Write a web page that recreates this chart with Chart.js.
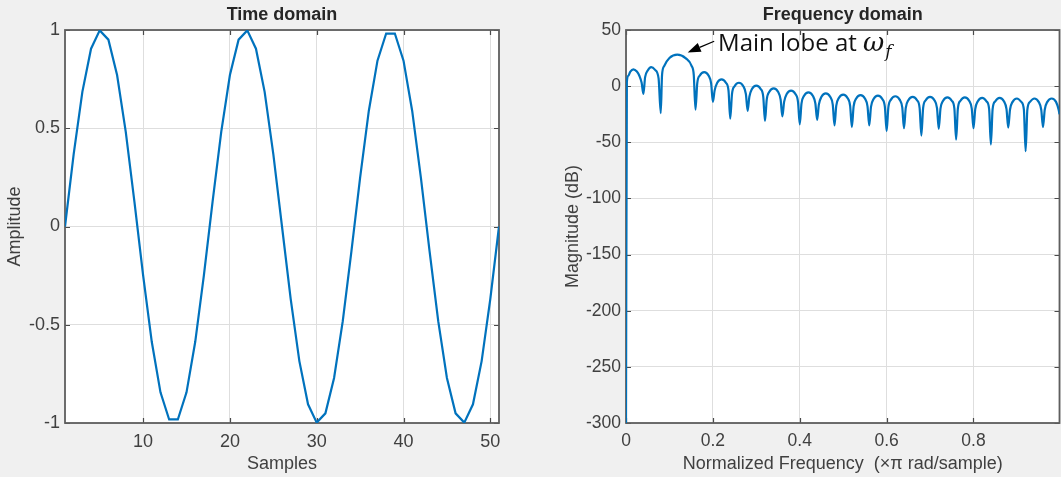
<!DOCTYPE html>
<html>
<head>
<meta charset="utf-8">
<title>Time domain / Frequency domain</title>
<script src="https://cdn.jsdelivr.net/npm/chart.js@4.4.1/dist/chart.umd.min.js"></script>
<style>
  html, body { margin: 0; padding: 0; background: #f0f0f0; }
  #wrap { position: relative; width: 1061px; height: 477px; overflow: hidden; background: #f0f0f0; }
  #timeCanvas { position: absolute; left: 0; top: 0; }
  #freqCanvas { position: absolute; left: 530px; top: 0; }
</style>
</head>
<body>
<div id="wrap">
  <canvas id="timeCanvas" width="530" height="477"></canvas>
  <canvas id="freqCanvas" width="531" height="477"></canvas>
</div>
<script>
// ---- Time-domain signal: 51 samples of a sinusoid ----
const sampleIndex = [1, 2, 3, 4, 5, 6, 7, 8, 9, 10, 11, 12, 13, 14, 15, 16, 17, 18, 19, 20,
  21, 22, 23, 24, 25, 26, 27, 28, 29, 30, 31, 32, 33, 34, 35, 36, 37, 38, 39, 40,
  41, 42, 43, 44, 45, 46, 47, 48, 49, 50, 51];
const amplitude = [0, 0.368, 0.685, 0.905, 0.998, 0.951, 0.771, 0.482, 0.125, -0.249,
  -0.588, -0.844, -0.982, -0.982, -0.844, -0.588, -0.249, 0.125, 0.482, 0.771,
  0.951, 0.998, 0.905, 0.685, 0.368, 0, -0.368, -0.685, -0.905, -0.998,
  -0.951, -0.771, -0.482, -0.125, 0.249, 0.588, 0.844, 0.982, 0.982, 0.844,
  0.588, 0.249, -0.125, -0.482, -0.771, -0.951, -0.998, -0.905, -0.685, -0.368, 0];
const timeXTicks = [10, 20, 30, 40, 50];
const timeYTicks = [-1, -0.5, 0, 0.5, 1];

// ---- Frequency response magnitude (dB) vs normalized frequency (x pi rad/sample) ----
const normFreq = [
  0, 0.002, 0.005, 0.010, 0.017, 0.025, 0.031, 0.036, 0.040,
  0.044, 0.050, 0.058, 0.067, 0.075, 0.080,
  0.083, 0.088, 0.100, 0.118, 0.137, 0.151, 0.156, 0.160,
  0.164, 0.170, 0.180, 0.190, 0.196, 0.200,
  0.204, 0.210, 0.220, 0.230, 0.236, 0.240,
  0.244, 0.250, 0.260, 0.270, 0.276, 0.280,
  0.284, 0.290, 0.300, 0.310, 0.316, 0.320,
  0.324, 0.330, 0.340, 0.350, 0.356, 0.360,
  0.364, 0.370, 0.380, 0.390, 0.396, 0.400,
  0.404, 0.410, 0.420, 0.430, 0.436, 0.440,
  0.444, 0.450, 0.460, 0.470, 0.476, 0.480,
  0.484, 0.490, 0.500, 0.510, 0.516, 0.520,
  0.524, 0.530, 0.540, 0.550, 0.556, 0.560,
  0.564, 0.570, 0.580, 0.590, 0.596, 0.600,
  0.604, 0.610, 0.620, 0.630, 0.636, 0.640,
  0.644, 0.650, 0.660, 0.670, 0.676, 0.680,
  0.684, 0.690, 0.700, 0.710, 0.716, 0.720,
  0.724, 0.730, 0.740, 0.750, 0.756, 0.760,
  0.764, 0.770, 0.780, 0.790, 0.796, 0.800,
  0.804, 0.810, 0.820, 0.830, 0.836, 0.840,
  0.844, 0.850, 0.860, 0.870, 0.876, 0.880,
  0.884, 0.890, 0.900, 0.910, 0.916, 0.920,
  0.924, 0.930, 0.940, 0.950, 0.956, 0.960,
  0.964, 0.970, 0.980, 0.990, 0.996, 0.998
];
const magnitudeDb = [
  -300, 4, 9, 13, 15, 13, 9, 3, -7,
  8, 14, 17, 14.5, 7, -24,
  10, 18, 25, 28, 25, 18, 10, -21,
  2.5, 9.5, 12.5, 9.5, 2.5, -14,
  -4, 3, 6, 3, -4, -29,
  -7, 0, 3, 0, -7, -22,
  -9.5, -2.5, 0.5, -2.5, -9.5, -31,
  -12, -5, -2, -5, -12, -27,
  -14, -7, -4, -7, -14, -34,
  -15.5, -8.5, -5.5, -8.5, -15.5, -30,
  -16.5, -9.5, -6.5, -9.5, -16.5, -35,
  -17.5, -10.5, -7.5, -10.5, -17.5, -36.5,
  -18, -11, -8, -11, -18, -35,
  -18.5, -11.5, -8.5, -11.5, -18.5, -40,
  -19, -12, -9, -12, -19, -37.5,
  -19.5, -12.5, -9.5, -12.5, -19.5, -44,
  -19.5, -12.5, -9.5, -12.5, -19.5, -38,
  -20, -13, -10, -13, -20, -47.5,
  -20, -13, -10, -13, -20, -37.5,
  -20.5, -13.5, -10.5, -13.5, -20.5, -52,
  -20.5, -13.5, -10.5, -13.5, -20.5, -37,
  -21, -14, -11, -14, -21, -58,
  -21, -14, -11, -14, -21, -36.5,
  -21, -14, -11, -14, -21, -25
];
const freqXTicks = [0, 0.2, 0.4, 0.6, 0.8];
const freqYTicks = [-300, -250, -200, -150, -100, -50, 0, 50];

// main-lobe callout (data coordinates)
const calloutTip = { x: 0.142, y: 30 };
const calloutTail = { x: 0.203, y: 40 };
const calloutText = { x: 0.212, y: 31.5, label: 'Main lobe at ', symbol: '\u03C9', sub: 'f' };

const LINE_BLUE = '#0072bd';
const TEXT_GREY = '#404040';
const FONT = '"Liberation Sans", Arial, Helvetica, sans-serif';

// Axes frame with inward ticks on all four sides (under the data line),
// plus titles, axis labels and an optional callout on top
const matlabAxes = {
  id: 'matlabAxes',
  beforeDraw(chart) {
    const { ctx, chartArea: a } = chart;
    ctx.save();
    ctx.fillStyle = '#ffffff';
    ctx.fillRect(a.left, a.top, a.right - a.left, a.bottom - a.top);
    ctx.restore();
  },
  beforeDatasetsDraw(chart) {
    const { ctx, chartArea: a, scales: { x, y } } = chart;
    ctx.save();
    ctx.strokeStyle = '#4a4a4a';
    ctx.lineWidth = 1.2;
    ctx.beginPath();
    const tl = 5;
    x.ticks.forEach(t => {
      const px = Math.round(x.getPixelForValue(t.value)) + 0.5;
      ctx.moveTo(px, a.bottom); ctx.lineTo(px, a.bottom - tl);
      ctx.moveTo(px, a.top); ctx.lineTo(px, a.top + tl);
    });
    y.ticks.forEach(t => {
      const py = Math.round(y.getPixelForValue(t.value)) + 0.5;
      ctx.moveTo(a.left, py); ctx.lineTo(a.left + tl, py);
      ctx.moveTo(a.right, py); ctx.lineTo(a.right - tl, py);
    });
    ctx.stroke();
    ctx.strokeStyle = '#5e5e5e';
    ctx.lineWidth = 1.8;
    ctx.strokeRect(a.left, a.top, a.right - a.left, a.bottom - a.top);
    ctx.restore();
  },
  afterDraw(chart, args, opts) {
    const { ctx, chartArea: a, scales: { x, y } } = chart;
    ctx.save();
    const cx = (a.left + a.right) / 2;
    const cy = (a.top + a.bottom) / 2;
    // title
    ctx.fillStyle = '#262626';
    ctx.textAlign = 'center';
    ctx.textBaseline = 'middle';
    ctx.font = 'bold 18px ' + FONT;
    ctx.fillText(opts.title, cx, 15);
    // axis labels
    ctx.fillStyle = TEXT_GREY;
    ctx.font = '18px ' + FONT;
    ctx.fillText(opts.xLabel, cx, 464);
    ctx.save();
    ctx.translate(opts.yLabelX, cy);
    ctx.rotate(-Math.PI / 2);
    ctx.fillText(opts.yLabel, 0, 0);
    ctx.restore();

    // callout arrow + text
    if (opts.callout) {
      const c = opts.callout;
      const tipX = x.getPixelForValue(c.tip.x), tipY = y.getPixelForValue(c.tip.y);
      const tailX = x.getPixelForValue(c.tail.x), tailY = y.getPixelForValue(c.tail.y);
      const ang = Math.atan2(tipY - tailY, tipX - tailX);
      const headLen = 13, headHalf = 4.8;
      const baseX = tipX - headLen * Math.cos(ang), baseY = tipY - headLen * Math.sin(ang);
      ctx.strokeStyle = '#000';
      ctx.fillStyle = '#000';
      ctx.lineWidth = 1.3;
      ctx.beginPath();
      ctx.moveTo(tailX, tailY);
      ctx.lineTo(baseX, baseY);
      ctx.stroke();
      ctx.beginPath();
      ctx.moveTo(tipX, tipY);
      ctx.lineTo(baseX + headHalf * Math.sin(ang), baseY - headHalf * Math.cos(ang));
      ctx.lineTo(baseX - headHalf * Math.sin(ang), baseY + headHalf * Math.cos(ang));
      ctx.closePath();
      ctx.fill();

      const tx = x.getPixelForValue(c.text.x), ty = y.getPixelForValue(c.text.y);
      ctx.textAlign = 'left';
      ctx.textBaseline = 'alphabetic';
      ctx.fillStyle = '#111';
      ctx.font = '24px "Open Sans", "Noto Sans", sans-serif';
      ctx.fillText(c.text.label, tx, ty);
      let ox = tx + ctx.measureText(c.text.label).width;
      ctx.font = 'italic 26px "DejaVu Serif", "Liberation Serif", serif';
      ctx.fillText(c.text.symbol, ox, ty);
      ox += ctx.measureText(c.text.symbol).width;
      ctx.font = 'italic 17px "DejaVu Serif", "Liberation Serif", serif';
      ctx.fillText(c.text.sub, ox + 1, ty + 6);
    }
    ctx.restore();
  }
};

function fixedTicks(values) {
  return scale => { scale.ticks = values.map(v => ({ value: v })); };
}

function axisOptions(opts) {
  return {
    x: {
      type: 'linear',
      min: opts.xMin, max: opts.xMax,
      afterBuildTicks: fixedTicks(opts.xTicks),
      afterFit: s => { s.height = 54; },
      grid: { color: '#dedede', lineWidth: 1, drawTicks: false },
      border: { display: false },
      ticks: { color: TEXT_GREY, font: { family: FONT, size: opts.tickSize }, padding: 8, maxRotation: 0,
        callback: v => String(v) }
    },
    y: {
      type: 'linear',
      min: opts.yMin, max: opts.yMax,
      afterBuildTicks: fixedTicks(opts.yTicks),
      afterFit: s => { s.width = opts.yWidth; },
      grid: { color: '#dedede', lineWidth: 1, drawTicks: false },
      border: { display: false },
      ticks: { color: TEXT_GREY, font: { family: FONT, size: opts.tickSize }, padding: 5,
        callback: v => String(v) }
    }
  };
}

// Time domain
new Chart(document.getElementById('timeCanvas'), {
  type: 'line',
  data: {
    datasets: [{
      data: sampleIndex.map((s, i) => ({ x: s, y: amplitude[i] })),
      borderColor: LINE_BLUE,
      borderWidth: 2.2,
      pointRadius: 0,
      tension: 0,
      fill: false
    }]
  },
  options: {
    responsive: false,
    animation: false,
    events: [],
    layout: { padding: { top: 30, right: 31, left: 0, bottom: 0 } },
    scales: axisOptions({ xMin: 1, xMax: 51, xTicks: timeXTicks, yMin: -1, yMax: 1, yTicks: timeYTicks, yWidth: 65, tickSize: 18 }),
    plugins: {
      legend: { display: false },
      tooltip: { enabled: false },
      matlabAxes: { title: 'Time domain', xLabel: 'Samples', yLabel: 'Amplitude', yLabelX: 15 }
    }
  },
  plugins: [matlabAxes]
});

// Frequency domain
new Chart(document.getElementById('freqCanvas'), {
  type: 'line',
  data: {
    datasets: [{
      data: normFreq.map((f, i) => ({ x: f, y: magnitudeDb[i] })),
      borderColor: LINE_BLUE,
      borderWidth: 2.2,
      pointRadius: 0,
      cubicInterpolationMode: 'monotone',
      fill: false
    }]
  },
  options: {
    responsive: false,
    animation: false,
    events: [],
    layout: { padding: { top: 30, right: 1.5, left: 0, bottom: 0 } },
    scales: axisOptions({ xMin: 0, xMax: 0.998, xTicks: freqXTicks, yMin: -300, yMax: 50, yTicks: freqYTicks, yWidth: 96, tickSize: 17.5 }),
    plugins: {
      legend: { display: false },
      tooltip: { enabled: false },
      matlabAxes: {
        title: 'Frequency domain',
        xLabel: 'Normalized Frequency  (\u00D7\u03C0 rad/sample)',
        yLabel: 'Magnitude (dB)',
        yLabelX: 43,
        callout: { tip: calloutTip, tail: calloutTail, text: calloutText }
      }
    }
  },
  plugins: [matlabAxes]
});
</script>
</body>
</html>
